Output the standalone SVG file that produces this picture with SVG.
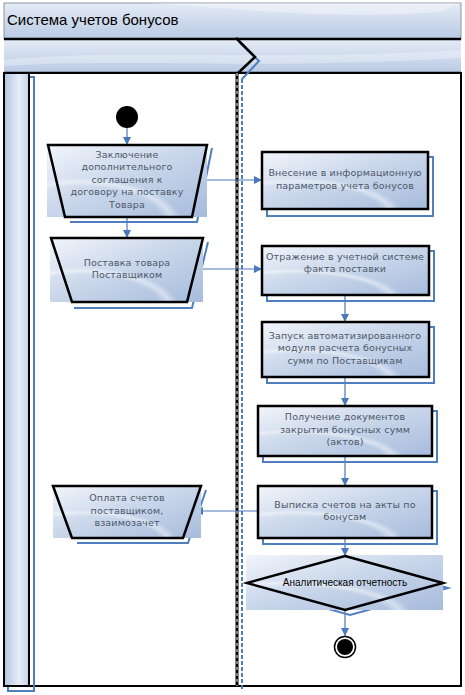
<svg xmlns="http://www.w3.org/2000/svg" width="465" height="695" viewBox="0 0 465 695">
<defs>
<linearGradient id="gNode" x1="0" y1="0" x2="1" y2="1">
<stop offset="0" stop-color="#f2f5fb"/>
<stop offset="0.45" stop-color="#cbd8eb"/>
<stop offset="1" stop-color="#a6bbdc"/>
</linearGradient>
<radialGradient id="gSwoosh" cx="0.2" cy="1.1" r="0.75">
<stop offset="0.7" stop-color="#ffffff" stop-opacity="0"/>
<stop offset="0.78" stop-color="#ffffff" stop-opacity="0.45"/>
<stop offset="0.86" stop-color="#ffffff" stop-opacity="0"/>
</radialGradient>
<linearGradient id="gBand" x1="0" y1="0" x2="0" y2="1">
<stop offset="0" stop-color="#e4ebf5"/>
<stop offset="1" stop-color="#b9cae4"/>
</linearGradient>
<linearGradient id="gBar" x1="0" y1="0" x2="1" y2="0">
<stop offset="0" stop-color="#b3c5e1"/>
<stop offset="0.6" stop-color="#e6edf6"/>
<stop offset="1" stop-color="#c4d3ea"/>
</linearGradient>
<marker id="arr" viewBox="0 0 10 10" refX="10" refY="5" markerWidth="8" markerHeight="8" markerUnits="userSpaceOnUse" orient="auto">
<path d="M0,0 L10,5 L0,10 z" fill="#4a78bc"/>
</marker>
<style>
.txt{font-family:"DejaVu Sans",Verdana,sans-serif;font-size:9.5px;fill:#4e5869;text-anchor:middle;letter-spacing:0.15px}
.dtxt{font-family:"Liberation Sans",Arial,sans-serif;font-size:10px;fill:#000;text-anchor:middle}
.edge{stroke:#4a78bc;stroke-width:1.2;fill:none;marker-end:url(#arr)}
.shadow{stroke:#4f7fc0;stroke-width:2;fill:none}
.outline{stroke:#000;stroke-width:2.5;fill:none}
.bg{fill:url(#gNode)}
.sw{fill:url(#gSwoosh)}
</style>
</defs>

<g id="pool">
<rect x="4" y="3" width="457" height="36" fill="url(#gBand)" stroke="#8a97a8" stroke-width="1"/>
<path d="M150,3 C260,10 330,20 440,12 L461,3 Z" fill="#ffffff" opacity="0.35"/>
<text x="7" y="25" font-family="Liberation Sans,Arial,sans-serif" font-size="15" fill="#000">Система учетов бонусов</text>
<rect x="4" y="39" width="457" height="34" fill="url(#gBand)"/>
<path d="M4,60 C120,48 260,62 461,50 L461,58 C260,70 120,58 4,66 Z" fill="#ffffff" opacity="0.3"/>
<line x1="4" y1="39" x2="461" y2="39" stroke="#000" stroke-width="2.5"/>
<line x1="4" y1="73" x2="461" y2="73" stroke="#000" stroke-width="2.5"/>
<rect x="4" y="73" width="457" height="613" fill="#fff" stroke="#000" stroke-width="2"/>
<polyline points="29,77 34,77 34,691 8,691 8,686" class="shadow"/>
<rect x="4" y="73" width="25" height="613" fill="url(#gBar)" stroke="#000" stroke-width="2"/>
<polyline points="240,43 259,61 242,79" class="shadow"/>
<line x1="242" y1="79" x2="242" y2="690" stroke="#4f7fc0" stroke-width="2" stroke-dasharray="4,2"/>
<polyline points="236,38 255,57 237,74" class="outline"/>
<line x1="237" y1="73" x2="237" y2="686" stroke="#000" stroke-width="3"/>
<line x1="237" y1="73" x2="237" y2="686" stroke="#fff" stroke-width="1" stroke-dasharray="3,3"/>
</g>

<g id="connectors">
<line x1="127" y1="128" x2="127" y2="145" class="edge"/>
<line x1="127" y1="217" x2="127" y2="238" class="edge"/>
<line x1="197" y1="180" x2="262" y2="180" class="edge"/>
<line x1="195" y1="269" x2="262" y2="269" class="edge"/>
<line x1="345" y1="295" x2="345" y2="322" class="edge"/>
<line x1="345" y1="377" x2="345" y2="406" class="edge"/>
<line x1="345" y1="456" x2="345" y2="486" class="edge"/>
<line x1="258" y1="511" x2="195" y2="511" class="edge"/>
<line x1="345" y1="538" x2="345" y2="556" class="edge"/>
<line x1="345" y1="610" x2="345" y2="636" class="edge"/>
</g>

<g id="start">
<circle cx="127" cy="117" r="11" fill="#000"/>
</g>

<g id="n1">
<polyline points="212,148 197,222 70,222" class="shadow"/>
<rect x="47" y="145" width="160" height="72" class="bg"/>
<rect x="47" y="145" width="160" height="72" class="sw"/>
<polygon points="48,145 207,145 192,217 65,217" class="outline"/>
<text class="txt"><tspan x="127" y="158">Заключение</tspan><tspan x="127" y="170">дополнительного</tspan><tspan x="127" y="183">соглашения к</tspan><tspan x="127" y="195">договору на поставку</tspan><tspan x="127" y="208">Товара</tspan></text>
</g>

<g id="n2">
<polyline points="208,242 192,308 74,308" class="shadow"/>
<rect x="50" y="238" width="153" height="64" class="bg"/>
<rect x="50" y="238" width="153" height="64" class="sw"/>
<polygon points="51,238 203,238 187,302 72,302" class="outline"/>
<text class="txt"><tspan x="127" y="266">Поставка товара</tspan><tspan x="127" y="278">Поставщиком</tspan></text>
</g>

<g id="n3">
<polyline points="428,157 433,157 433,216 267,216 267,209" class="shadow"/>
<rect x="262" y="152" width="166" height="57" class="bg"/>
<rect x="262" y="152" width="166" height="57" class="sw"/>
<rect x="262" y="152" width="166" height="57" class="outline"/>
<text class="txt"><tspan x="345" y="176">Внесение в информационную</tspan><tspan x="345" y="189">параметров учета бонусов</tspan></text>
</g>

<g id="n4">
<polyline points="429,251 434,251 434,301 267,301 267,295" class="shadow"/>
<rect x="262" y="246" width="167" height="49" class="bg"/>
<rect x="262" y="246" width="167" height="49" class="sw"/>
<rect x="262" y="246" width="167" height="49" class="outline"/>
<text class="txt"><tspan x="345" y="260">Отражение в учетной системе</tspan><tspan x="345" y="272">факта поставки</tspan></text>
</g>

<g id="n5">
<polyline points="429,327 434,327 434,383 267,383 267,377" class="shadow"/>
<rect x="262" y="322" width="167" height="55" class="bg"/>
<rect x="262" y="322" width="167" height="55" class="sw"/>
<rect x="262" y="322" width="167" height="55" class="outline"/>
<text class="txt"><tspan x="345" y="339">Запуск автоматизированного</tspan><tspan x="345" y="351">модуля расчета бонусных</tspan><tspan x="345" y="364">сумм по Поставщикам</tspan></text>
</g>

<g id="n6">
<polyline points="432,411 437,411 437,462 263,462 263,456" class="shadow"/>
<rect x="258" y="406" width="174" height="50" class="bg"/>
<rect x="258" y="406" width="174" height="50" class="sw"/>
<rect x="258" y="406" width="174" height="50" class="outline"/>
<text class="txt"><tspan x="345" y="420">Получение документов</tspan><tspan x="345" y="433">закрытия бонусных сумм</tspan><tspan x="345" y="445">(актов)</tspan></text>
</g>

<g id="n7">
<polyline points="432,491 437,491 437,544 263,544 263,538" class="shadow"/>
<rect x="258" y="486" width="174" height="52" class="bg"/>
<rect x="258" y="486" width="174" height="52" class="sw"/>
<rect x="258" y="486" width="174" height="52" class="outline"/>
<text class="txt"><tspan x="345" y="508">Выписка счетов на акты по</tspan><tspan x="345" y="520">бонусам</tspan></text>
</g>

<g id="n8">
<polyline points="206,490 188,543 77,543" class="shadow"/>
<rect x="53" y="486" width="148" height="52" class="bg"/>
<rect x="53" y="486" width="148" height="52" class="sw"/>
<polygon points="53,486 201,486 183,538 72,538" class="outline"/>
<text class="txt"><tspan x="127" y="501">Оплата счетов</tspan><tspan x="127" y="514">поставщиком,</tspan><tspan x="127" y="526">взаимозачет</tspan></text>
</g>

<g id="n9">
<polygon points="350,561 448,588 350,615 252,588" class="shadow"/>
<rect x="246" y="555" width="197" height="55" class="bg"/>
<rect x="246" y="555" width="197" height="55" class="sw"/>
<polygon points="345,556 443,583 345,610 247,583" class="outline"/>
<text x="345" y="586" class="dtxt">Аналитическая отчетность</text>
</g>

<g id="end">
<circle cx="345" cy="647" r="10.5" fill="#fff" stroke="#000" stroke-width="1.5"/>
<circle cx="345" cy="647" r="8" fill="#000"/>
</g>
</svg>
